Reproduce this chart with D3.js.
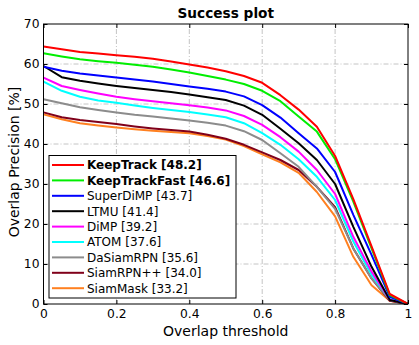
<!DOCTYPE html>
<html>
<head>
<meta charset="utf-8">
<script src="https://cdn.jsdelivr.net/npm/d3@7"></script>
<style>
  body { margin: 0; background: #fff; }
  svg { display: block; font-family: "DejaVu Sans", sans-serif; }
  .grid line { stroke: #c4c4c4; stroke-width: 1; stroke-dasharray: 5,2,1,2; }
</style>
</head>
<body>
<svg id="chart" width="419" height="345"></svg>
<script>
// overlap thresholds (x) and success rates per tracker
var thresholds = [0, 0.05, 0.1, 0.15, 0.2, 0.25, 0.3, 0.35, 0.4, 0.45, 0.5,
                  0.55, 0.6, 0.65, 0.7, 0.75, 0.8, 0.85, 0.9, 0.95, 1];

var trackerNames = ["KeepTrack [48.2]", "KeepTrackFast [46.6]", "SuperDiMP [43.7]",
  "LTMU [41.4]", "DiMP [39.2]", "ATOM [37.6]", "DaSiamRPN [35.6]",
  "SiamRPN++ [34.0]", "SiamMask [33.2]"];
var trackerColors = ["#ff0000", "#00ee00", "#0000ff", "#000000", "#ff00ff",
  "#00ffff", "#8c8c8c", "#80001a", "#ff8020"];
var boldNames = [true, true, false, false, false, false, false, false, false];

var keepTrack     = [64.4, 63.7, 63.0, 62.6, 62.2, 61.8, 61.3, 60.6, 59.9, 59.1, 58.2, 57.0, 55.3, 52.2, 48.6, 44.3, 37.0, 26.2, 14.4, 2.5, 0];
var keepTrackFast = [62.7, 61.9, 61.2, 60.7, 60.3, 59.8, 59.3, 58.6, 57.9, 57.0, 56.1, 55.0, 53.3, 50.7, 46.9, 43.1, 36.2, 25.6, 13.9, 2.2, 0];
var superDiMP     = [59.3, 58.3, 57.6, 57.1, 56.6, 56.1, 55.6, 55.0, 54.4, 53.8, 53.1, 51.9, 49.7, 46.6, 42.7, 38.9, 33.0, 22.3, 12.3, 1.8, 0];
var ltmu          = [59.5, 56.7, 55.8, 55.1, 54.5, 54.0, 53.5, 53.0, 52.4, 51.7, 51.0, 49.6, 47.3, 43.8, 40.2, 36.0, 30.0, 19.3, 9.3, 1.0, 0];
var dimp          = [56.6, 54.5, 53.5, 52.6, 51.8, 51.2, 50.7, 50.2, 49.7, 49.1, 48.4, 47.0, 44.8, 41.7, 38.1, 33.5, 27.5, 16.8, 8.1, 1.1, 0];
var atom          = [55.6, 53.3, 51.8, 50.9, 50.3, 49.6, 49.0, 48.5, 48.0, 47.4, 46.7, 45.2, 42.7, 39.8, 36.2, 31.8, 26.0, 15.6, 7.3, 1.2, 0];
var daSiamRPN     = [51.2, 50.2, 49.2, 48.5, 47.9, 47.3, 46.9, 46.4, 45.9, 45.3, 44.6, 43.2, 41.0, 37.7, 34.3, 29.3, 23.8, 13.9, 6.4, 1.0, 0];
var siamRPNpp     = [47.9, 46.7, 46.0, 45.5, 45.0, 44.4, 43.9, 43.5, 43.1, 42.3, 41.3, 39.8, 37.9, 36.0, 33.5, 29.3, 24.2, 13.9, 6.4, 0.8, 0];
var siamMask      = [47.4, 46.2, 45.2, 44.6, 44.1, 43.7, 43.3, 43.0, 42.7, 42.0, 41.1, 39.5, 37.4, 35.4, 32.8, 28.0, 21.9, 11.8, 4.7, 0.8, 0];

var allSeries = [keepTrack, keepTrackFast, superDiMP, ltmu, dimp, atom, daSiamRPN, siamRPNpp, siamMask];

var xTicks = [0, 0.2, 0.4, 0.6, 0.8, 1];
var yTicks = [0, 10, 20, 30, 40, 50, 60, 70];

var margin = {left: 43.5, right: 11, top: 24, bottom: 41};
var width = 419, height = 345;

var svg = d3.select("#chart");
var x = d3.scaleLinear().domain([0, 1]).range([margin.left, width - margin.right]);
var y = d3.scaleLinear().domain([0, 70]).range([height - margin.bottom, margin.top]);

// grid
var grid = svg.append("g").attr("class", "grid");
grid.selectAll(".gx").data(xTicks.slice(1, -1)).enter().append("line")
  .attr("x1", d => x(d)).attr("x2", d => x(d))
  .attr("y1", y(0)).attr("y2", y(70));
grid.selectAll(".gy").data(yTicks.slice(1, -1)).enter().append("line")
  .attr("x1", x(0)).attr("x2", x(1))
  .attr("y1", d => y(d)).attr("y2", d => y(d));

// curves
var line = d3.line()
  .x((d, i) => x(thresholds[i]))
  .y(d => y(d));

svg.append("g").selectAll("path").data(allSeries.slice().reverse()).enter().append("path")
  .attr("d", line)
  .attr("fill", "none")
  .attr("stroke", (d, i) => trackerColors[allSeries.length - 1 - i])
  .attr("stroke-width", 2)
  .attr("stroke-linejoin", "round");

// axes (ticks pointing inside)
var xAxis = d3.axisBottom(x).tickValues(xTicks).tickSizeInner(-4).tickSizeOuter(0)
  .tickPadding(5.5).tickFormat(d => d === 0 || d === 1 ? d3.format("d")(d) : d3.format(".1f")(d));
var gx = svg.append("g").attr("transform", "translate(0," + y(0) + ")").call(xAxis);
gx.selectAll("text").attr("font-size", 12.3).attr("font-family", "DejaVu Sans").attr("fill", "#000");

var yAxis = d3.axisLeft(y).tickValues(yTicks).tickSizeInner(-4).tickSizeOuter(0).tickPadding(4);
var gy = svg.append("g").attr("transform", "translate(" + x(0) + ",0)").call(yAxis);
gy.selectAll("text").attr("font-size", 12.3).attr("font-family", "DejaVu Sans").attr("fill", "#000");

svg.append("g").attr("transform", "translate(0," + y(70) + ")")
  .call(d3.axisTop(x).tickValues(xTicks).tickSizeInner(-4).tickSizeOuter(0).tickFormat(""));
svg.append("g").attr("transform", "translate(" + x(1) + ",0)")
  .call(d3.axisRight(y).tickValues(yTicks).tickSizeInner(-4).tickSizeOuter(0).tickFormat(""));
svg.selectAll(".domain").remove();

// frame
svg.append("rect")
  .attr("x", x(0)).attr("y", y(70))
  .attr("width", x(1) - x(0)).attr("height", y(0) - y(70))
  .attr("fill", "none").attr("stroke", "#000").attr("stroke-width", 1);

// titles
svg.append("text").attr("x", (x(0) + x(1)) / 2).attr("y", 18)
  .attr("text-anchor", "middle").attr("font-size", 13.7).attr("font-weight", "bold")
  .text("Success plot");
svg.append("text").attr("x", (x(0) + x(1)) / 2).attr("y", 335.5)
  .attr("text-anchor", "middle").attr("font-size", 14)
  .text("Overlap threshold");
svg.append("text")
  .attr("transform", "translate(18.8," + ((y(0) + y(70)) / 2 - 2) + ") rotate(-90)")
  .attr("text-anchor", "middle").attr("font-size", 14)
  .text("Overlap Precision [%]");

// legend
var legX = 49, legY = 155.5, legW = 187, rowH = 15.4;
var legend = svg.append("g");
legend.append("rect")
  .attr("x", legX).attr("y", legY)
  .attr("width", legW).attr("height", 142.5)
  .attr("fill", "#fff").attr("stroke", "#000").attr("stroke-width", 1);

var rows = legend.selectAll(".row").data(trackerNames).enter().append("g")
  .attr("transform", (d, i) => "translate(" + legX + "," + (legY + 9.5 + i * rowH) + ")");
rows.append("line")
  .attr("x1", 3).attr("x2", 35)
  .attr("stroke", (d, i) => trackerColors[i]).attr("stroke-width", 2);
rows.append("text")
  .attr("x", 38).attr("dy", "0.36em")
  .attr("font-size", 12)
  .attr("font-weight", (d, i) => boldNames[i] ? "bold" : "normal")
  .text(d => d);
</script>
</body>
</html>
